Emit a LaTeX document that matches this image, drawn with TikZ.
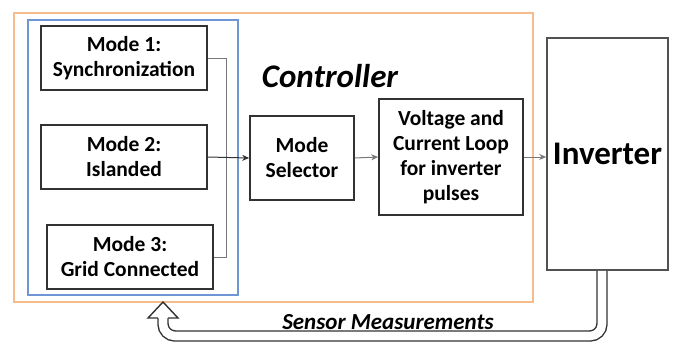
\documentclass[tikz,border=0pt]{standalone}
\usepackage{fontspec}
\setmainfont{Carlito}
\usetikzlibrary{arrows.meta}
\definecolor{boxline}{RGB}{50,50,50}
\definecolor{orangeline}{RGB}{247,188,140}
\definecolor{blueline}{RGB}{110,150,210}
\definecolor{busgray}{RGB}{120,120,120}
\begin{document}
\begin{tikzpicture}[x=1pt,y=-1pt,
  blk/.style={draw=boxline,line width=1.6pt,inner sep=0pt,align=center,
    font=\bfseries\fontsize{21.5}{25}\selectfont},
  conn/.style={draw=busgray,line width=1pt,-{Stealth[length=7pt,width=6pt]}},
  bus/.style={draw=busgray,line width=1pt}]
\useasboundingbox (0,0) rectangle (676,345);
\draw[orangeline,line width=2pt] (14,13) rectangle (533,302);
\draw[blueline,line width=1.5pt] (28,20) rectangle (238,295);
\node[blk,minimum width=166pt,minimum height=64pt] (m1) at (124,58) {Mode 1:\\Synchronization};
\node[blk,minimum width=166pt,minimum height=64pt] (m2) at (124,157) {Mode 2:\\Islanded};
\node[blk,minimum width=166pt,minimum height=64pt] (m3) at (130,257) {Mode 3:\\Grid Connected};
\node[blk,minimum width=104pt,minimum height=84pt] (ms) at (302,158) {Mode\\Selector};
\node[blk,minimum width=144pt,minimum height=116pt] (vc) at (451,157) {Voltage and\\Current Loop\\for inverter\\pulses};
\node[draw=boxline!85,line width=1.6pt,inner sep=0pt,minimum width=121pt,minimum height=232pt,
  font=\bfseries\fontsize{33}{38}\selectfont] (inv) at (607.5,154) {Inverter};
\node[font=\bfseries\itshape\fontsize{33}{38}\selectfont] (ctl) at (330,76) {Controller};
\node[font=\bfseries\itshape\fontsize{23}{27}\selectfont] (sm) at (388,322) {Sensor Measurements};
\coordinate (busx) at (226,0);
\draw[bus] (m1.east) -- (m1.east -| busx) -- (m3.east -| busx) -- (m3.east);
\draw[conn,draw=boxline] (m2.east) -- (ms.west);
\draw[conn] (ms.east) -- (vc.west);
\draw[conn] (vc.east) -- (vc.east -| inv.west);
\coordinate (fb1) at (602,0);
\coordinate (fbh) at (163,318);
\coordinate (fbtip) at (163,302);
\draw[boxline,line width=1.4pt,double=white,double distance=8.6pt,rounded corners=12pt]
  (inv.south -| fb1) -- (602,336) -- (163,336) -- (fbh);
\draw[boxline,line width=1.4pt,fill=white,line join=miter]
  (168,318) -- (178,318) -- (fbtip) -- (148,318) -- (158,318);
\end{tikzpicture}
\end{document}
